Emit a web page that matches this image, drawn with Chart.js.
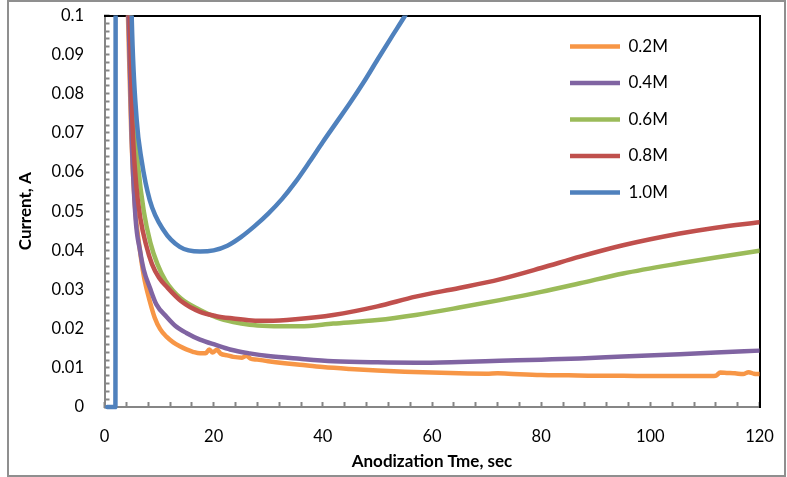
<!DOCTYPE html>
<html>
<head>
<meta charset="utf-8">
<script src="https://cdn.jsdelivr.net/npm/chart.js@4"></script>
<style>
  body { margin: 0; background: #fff; }
  #wrap { position: relative; width: 787px; height: 477px; }
  #frame { position: absolute; left: 7px; top: 0; width: 779px; height: 477px; box-sizing: border-box; border: 2px solid #8f8f8f; pointer-events: none; }
</style>
</head>
<body>
<div id="wrap">
  <canvas id="chart" width="787" height="477"></canvas>
  <div id="frame"></div>
</div>
<script>
// series names
const seriesNames = ['0.2M', '0.4M', '0.6M', '0.8M', '1.0M'];

// time (s) and current (A)
const t02 = [4.3, 4.9, 5.6, 6.4, 7.2, 8.3, 9.2, 10.2, 11.4, 12.6, 13.8, 15, 16.2, 17.5, 18.5, 19.2, 19.8, 20.6, 21.3, 22.5, 23.6, 25.2, 26, 26.7, 28, 30, 33, 35.8, 40, 45, 50, 55, 60, 65, 70, 72, 74, 80, 85, 90, 95, 100, 105, 110, 112, 112.8, 114, 115.5, 117, 118, 119, 120];
const i02 = [0.1, 0.07, 0.051, 0.041, 0.0335, 0.027, 0.0228, 0.0199, 0.0179, 0.0165, 0.0155, 0.0147, 0.0141, 0.0137, 0.0137, 0.0147, 0.0139, 0.0146, 0.0136, 0.0132, 0.0128, 0.0126, 0.0131, 0.0124, 0.0121, 0.0117, 0.0112, 0.0108, 0.0102, 0.0097, 0.0093, 0.009, 0.0088, 0.0086, 0.0085, 0.0086, 0.0085, 0.0082, 0.0081, 0.008, 0.008, 0.0079, 0.0079, 0.0079, 0.008, 0.0088, 0.0087, 0.0086, 0.0084, 0.0089, 0.0085, 0.0084];

const t04 = [4.0, 4.4, 5.0, 5.7, 6.5, 7.2, 8.3, 9.5, 11.4, 13, 15, 17.5, 20.5, 23, 26.6, 30, 35.8, 41.9, 50, 57, 65, 72.4, 80, 87.1, 95, 105.4, 112, 120];
const i04 = [0.13, 0.1, 0.068, 0.048, 0.04, 0.035, 0.0305, 0.0262, 0.023, 0.0207, 0.0189, 0.0172, 0.0158, 0.0147, 0.0137, 0.013, 0.0123, 0.0117, 0.0114, 0.0113, 0.0115, 0.0118, 0.0121, 0.0124, 0.0129, 0.0135, 0.0139, 0.0144];

const t06 = [4.3, 4.8, 5.4, 6.2, 7.2, 8.4, 9.7, 11.2, 14, 17.5, 20.5, 23.6, 26.6, 30, 35.8, 41.9, 50, 57, 65, 72.4, 80, 87.1, 95, 105.4, 112, 120];
const i06 = [0.13, 0.1, 0.076, 0.061, 0.05, 0.042, 0.0365, 0.0322, 0.0277, 0.0248, 0.0229, 0.0217, 0.021, 0.0207, 0.0206, 0.0213, 0.0222, 0.0235, 0.0254, 0.0273, 0.0294, 0.0316, 0.0341, 0.0367, 0.0382, 0.0399];

const t08 = [4.1, 4.6, 5.1, 5.8, 6.6, 7.6, 8.7, 10, 11.4, 14, 17.5, 20.5, 23.6, 27, 30, 35, 41.9, 50, 57, 65, 72.4, 80, 87.1, 95, 105.4, 112, 120];
const i08 = [0.13, 0.1, 0.073, 0.057, 0.048, 0.0415, 0.0365, 0.033, 0.0307, 0.0271, 0.0243, 0.0232, 0.0226, 0.0221, 0.022, 0.0224, 0.0235, 0.0257, 0.0282, 0.0304, 0.0326, 0.0355, 0.0384, 0.0413, 0.0443, 0.0458, 0.0472];

const t10 = [0.5, 2.0, 2.1, 4.6, 5.0, 5.9, 6.8, 8.3, 10.8, 13.8, 17.5, 20, 22.5, 25, 27.5, 30, 32.5, 35, 37.5, 40, 42.5, 45, 47.5, 50, 52.5, 55, 56];
const i10 = [0, 0, 0.3, 0.13, 0.0988, 0.0733, 0.063, 0.0528, 0.0452, 0.0409, 0.0397, 0.04, 0.0412, 0.0434, 0.0462, 0.0494, 0.0531, 0.0575, 0.0625, 0.0677, 0.0727, 0.0777, 0.083, 0.0887, 0.0943, 0.0998, 0.1021];

// tick labels
const xLabelValues = [0, 20, 40, 60, 80, 100, 120];
const yLabelValues = [0, 0.01, 0.02, 0.03, 0.04, 0.05, 0.06, 0.07, 0.08, 0.09, 0.1];

const colors = ['#F79646', '#8064A2', '#9BBB59', '#C0504D', '#4F81BD'];
const times = [t02, t04, t06, t08, t10];
const currents = [i02, i04, i06, i08, i10];

Chart.defaults.font.family = 'Lato';
Chart.defaults.color = '#000';

const datasets = seriesNames.map((name, k) => ({
  label: name,
  data: times[k].map((t, j) => ({ x: t, y: currents[k][j] })),
  borderColor: colors[k],
  backgroundColor: colors[k],
  borderWidth: 4.5,
  borderCapStyle: 'round',
  borderJoinStyle: 'round',
  pointRadius: 0,
  cubicInterpolationMode: 'monotone',
  clip: { left: 0, top: 0, right: 0, bottom: 3 },
  order: seriesNames.length - k
}));

function pickLabel(list) {
  return (v) => {
    const hit = list.find(t => Math.abs(t - v) < 1e-9);
    return hit === undefined ? '' : String(hit);
  };
}

// move the legend into the upper right of the plot
const legendSpot = {
  id: 'legendSpot',
  afterLayout(chart) {
    const lg = chart.legend, a = chart.chartArea;
    lg.left = a.right - 209;
    lg.right = a.right;
    lg.top = a.top + 3;
    lg.bottom = a.bottom;
  }
};

const axisGray = '#868686';

new Chart(document.getElementById('chart'), {
  type: 'line',
  data: { datasets: datasets },
  plugins: [legendSpot],
  options: {
    responsive: false,
    animation: false,
    events: [],
    layout: { padding: { left: 10, right: 27.5, top: 15.5, bottom: 5 } },
    plugins: {
      tooltip: { enabled: false },
      legend: {
        position: 'chartArea',
        align: 'start',
        labels: {
          usePointStyle: true,
          pointStyle: 'line',
          pointStyleWidth: 50,
          padding: 19.5,
          font: { size: 17 },
          sort: (a, b) => a.datasetIndex - b.datasetIndex
        }
      }
    },
    scales: {
      x: {
        type: 'linear',
        position: 'bottom',
        min: 0,
        max: 120,
        ticks: { stepSize: 4, autoSkip: false, maxRotation: 0, padding: 25, font: { size: 16.5 }, callback: pickLabel(xLabelValues) },
        grid: { drawOnChartArea: false, tickLength: -5, tickColor: axisGray, tickWidth: 2 },
        border: { color: axisGray, width: 2 },
        title: { display: true, text: 'Anodization Tme, sec', font: { size: 17, weight: 'bold' }, padding: { top: 0, bottom: 0 } },
        afterFit: (s) => { s.height = 65; s.paddingLeft = 0; s.paddingRight = 0; }
      },
      y: {
        type: 'linear',
        position: 'left',
        min: 0,
        max: 0.1,
        ticks: { stepSize: 0.002, autoSkip: false, padding: 25.5, font: { size: 16.5 }, callback: pickLabel(yLabelValues) },
        grid: { drawOnChartArea: false, tickLength: -5, tickColor: axisGray, tickWidth: 2 },
        border: { color: axisGray, width: 2 },
        title: { display: true, text: 'Current, A', font: { size: 17, weight: 'bold' }, padding: { top: 5, bottom: 0 } },
        afterFit: (s) => { s.width = 94.5; s.paddingTop = 0; s.paddingBottom = 0; }
      },
      xTop: {
        type: 'linear',
        position: 'top',
        min: 0,
        max: 120,
        ticks: { display: false },
        grid: { display: false, drawTicks: false },
        border: { color: '#000', width: 2 },
        afterFit: (s) => { s.height = 0; s.paddingLeft = 0; s.paddingRight = 0; }
      },
      yRight: {
        type: 'linear',
        position: 'right',
        min: 0,
        max: 0.1,
        ticks: { display: false },
        grid: { display: false, drawTicks: false },
        border: { color: '#000', width: 2 },
        afterFit: (s) => { s.width = 0; s.paddingTop = 0; s.paddingBottom = 0; }
      }
    }
  }
});
</script>
</body>
</html>
